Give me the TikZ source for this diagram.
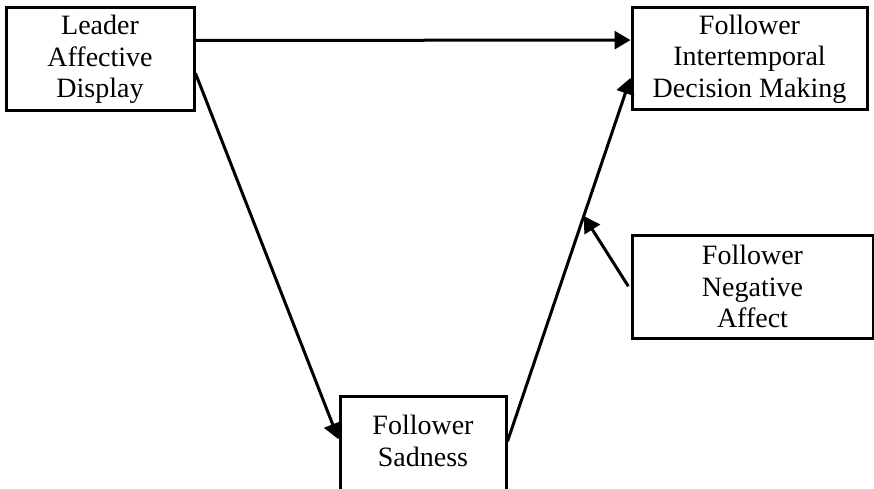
\documentclass[tikz,border=0pt]{standalone}
\usepackage{fontspec}
\setmainfont{Liberation Serif}
\usetikzlibrary{arrows.meta,calc}
\tikzset{
  box/.style={draw, line width=3pt, rectangle, inner sep=0pt, align=center,
              font=\fontsize{28}{31.5}\selectfont},
  link/.style={line width=3pt, -{Triangle[length=16pt,width=18pt]}},
  label/.style={align=center, inner sep=0pt, font=\fontsize{28}{31.5}\selectfont}
}
\begin{document}
\begin{tikzpicture}[x=1pt,y=-1pt]
  \useasboundingbox (0,0) rectangle (874,489);
  \clip (0,0) rectangle (874,489);

  % boxes
  \node[box, minimum width=188pt, minimum height=103pt] (lead) at (100,59.5)
    {Leader\\Affective\\Display};
  \node[box, minimum width=235pt, minimum height=102pt] (fidm) at (749.5,59)
    {Follower\\Intertemporal\\Decision Making};
  \node[box, minimum width=241pt, minimum height=103pt] (fna) at (752.5,286.5)
    {Follower\\Negative\\Affect};
  \node[box, minimum width=166pt, minimum height=100pt, anchor=north] (fsad) at (423,395) {};
  \node[label] (fsadtext) at (423,441) {Follower\\Sadness};

  % anchor points on box edges
  \coordinate (a1) at ($(lead.north east)!0.32!(lead.south east)$);
  \coordinate (b1) at ($(fidm.north west)!0.32!(fidm.south west)$);
  \coordinate (a2) at ($(lead.north east)!0.63!(lead.south east)$);
  \coordinate (s1) at ($(fsad.north west)!0.43!(fsad.south west)$);
  \coordinate (s2) at ($(fsad.north east)!0.45!(fsad.south east)$);
  \coordinate (b2) at ($(fidm.north west)!0.68!(fidm.south west)$);
  \coordinate (m0) at ($(fna.north west)!0.53!(fna.south west)$);
  \coordinate (m1) at ($(s2)!0.62!(b2)$);

  % connectors
  \draw[link] (a1) -- (b1);
  \draw[link] (a2) -- (s1);
  \draw[link] (s2) -- (b2);
  \draw[link, shorten <=4pt] (m0) -- (m1);
\end{tikzpicture}
\end{document}
